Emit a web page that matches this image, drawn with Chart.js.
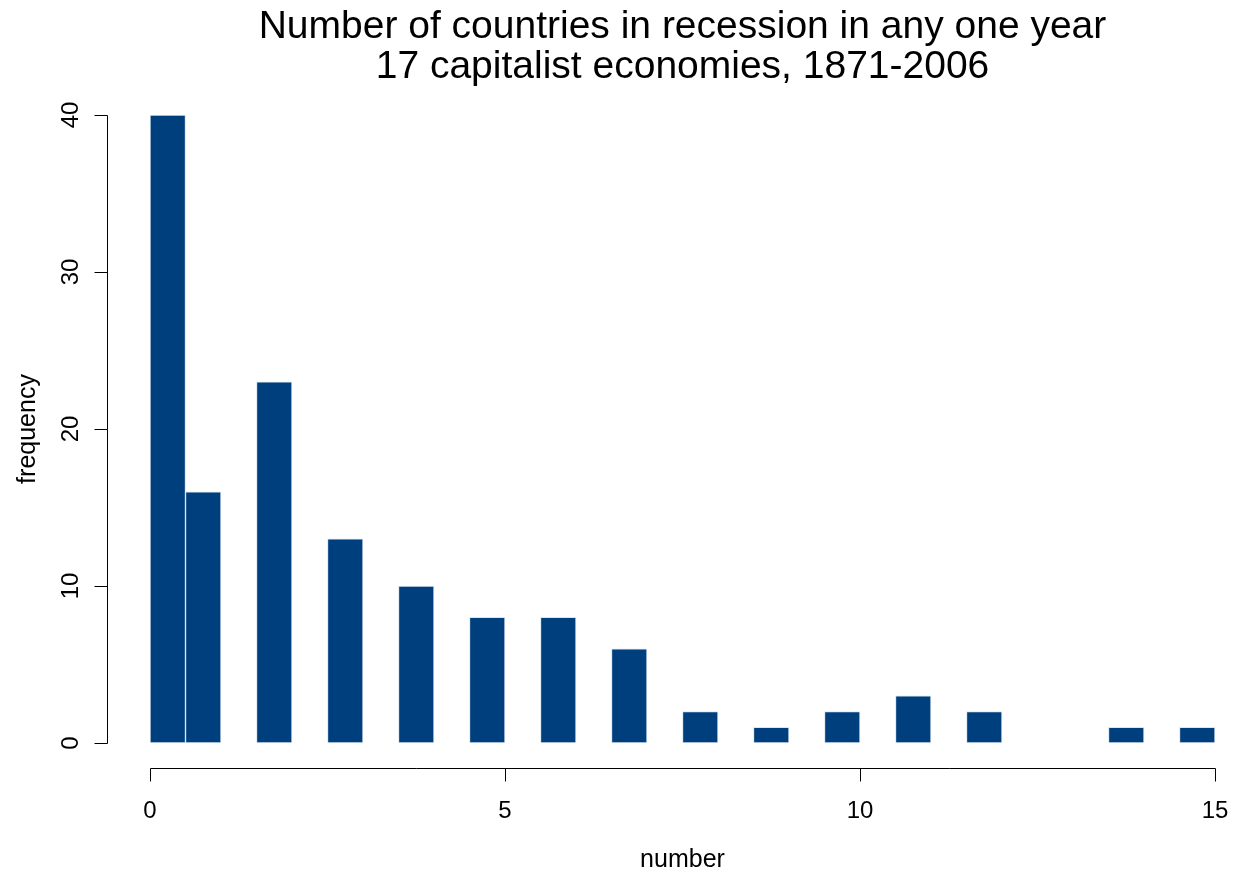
<!DOCTYPE html>
<html>
<head>
<meta charset="utf-8">
<title>Number of countries in recession in any one year</title>
<script src="https://cdn.jsdelivr.net/npm/chart.js@4/dist/chart.umd.min.js"></script>
<style>
  html, body { margin: 0; padding: 0; background: #ffffff; }
  canvas { display: block; }
</style>
</head>
<body>
<canvas id="hist" width="1233" height="875"></canvas>
<script>
// Histogram bins (width 0.5) of the number of economies in recession per year
const binStarts = [0, 0.5, 1, 1.5, 2, 2.5, 3, 3.5, 4, 4.5, 5, 5.5, 6, 6.5, 7,
                   7.5, 8, 8.5, 9, 9.5, 10, 10.5, 11, 11.5, 12, 12.5, 13, 13.5, 14, 14.5];
const binWidth = 0.5;
const frequencies = [40, 16, 0, 23, 0, 13, 0, 10, 0, 8, 0, 8, 0, 6, 0,
                     2, 0, 1, 0, 2, 0, 3, 0, 2, 0, 0, 0, 1, 0, 1];
const xTicks = [0, 5, 10, 15];
const yTicks = [0, 10, 20, 30, 40];
const titleLines = ['Number of countries in recession in any one year',
                    '17 capitalist economies, 1871-2006'];
const xLabel = 'number';
const yLabel = 'frequency';

const FONT = '"Liberation Sans", Arial, Helvetica, sans-serif';

// R-style detached axes: the axis lines sit 4% of the data range outside the data
const baseAxes = {
  id: 'baseAxes',
  afterDraw(chart) {
    const ctx = chart.ctx;
    const xs = chart.scales.x, ys = chart.scales.y;
    const xMin = xTicks[0], xMax = xTicks[xTicks.length - 1];
    const yMin = yTicks[0], yMax = yTicks[yTicks.length - 1];
    const xAxisY = Math.round(ys.getPixelForValue(yMin - 0.04 * (yMax - yMin))) + 0.5;
    const yAxisX = Math.round(xs.getPixelForValue(xMin - 0.04 * (xMax - xMin))) + 0.5;
    const tickLen = 13;
    const crisp = v => Math.round(v) + 0.5;

    ctx.save();
    ctx.strokeStyle = '#000000';
    ctx.lineWidth = 1;
    ctx.fillStyle = '#000000';

    // x axis
    ctx.beginPath();
    ctx.moveTo(crisp(xs.getPixelForValue(xMin)), xAxisY);
    ctx.lineTo(crisp(xs.getPixelForValue(xMax)), xAxisY);
    xTicks.forEach(v => {
      const px = crisp(xs.getPixelForValue(v));
      ctx.moveTo(px, xAxisY);
      ctx.lineTo(px, xAxisY + tickLen);
    });
    ctx.stroke();
    ctx.font = '24px ' + FONT;
    ctx.textAlign = 'center';
    ctx.textBaseline = 'alphabetic';
    xTicks.forEach(v => {
      ctx.fillText(String(v), xs.getPixelForValue(v), xAxisY + 49);
    });

    // y axis
    ctx.beginPath();
    ctx.moveTo(yAxisX, crisp(ys.getPixelForValue(yMin)));
    ctx.lineTo(yAxisX, crisp(ys.getPixelForValue(yMax)));
    yTicks.forEach(v => {
      const py = crisp(ys.getPixelForValue(v));
      ctx.moveTo(yAxisX, py);
      ctx.lineTo(yAxisX - tickLen, py);
    });
    ctx.stroke();
    yTicks.forEach(v => {
      ctx.save();
      ctx.translate(yAxisX - 30, ys.getPixelForValue(v));
      ctx.rotate(-Math.PI / 2);
      ctx.fillText(String(v), 0, 0);
      ctx.restore();
    });

    // axis titles, centred on the plot region
    const plotCx = (xs.getPixelForValue(xMin - 0.04 * (xMax - xMin)) +
                    xs.getPixelForValue(xMax + 0.04 * (xMax - xMin))) / 2;
    const plotCy = (ys.getPixelForValue(yMin - 0.04 * (yMax - yMin)) +
                    ys.getPixelForValue(yMax + 0.04 * (yMax - yMin))) / 2;
    ctx.font = '25px ' + FONT;
    ctx.fillText(xLabel, plotCx, 867);
    ctx.save();
    ctx.translate(35, plotCy);
    ctx.rotate(-Math.PI / 2);
    ctx.fillText(yLabel, 0, 0);
    ctx.restore();

    // main title
    ctx.font = '39px ' + FONT;
    ctx.fillText(titleLines[0], plotCx, 38);
    ctx.fillText(titleLines[1], plotCx, 78);
    ctx.restore();
  }
};

new Chart(document.getElementById('hist'), {
  type: 'bar',
  data: {
    datasets: [{
      label: yLabel,
      data: binStarts.map((s, i) => ({ x: s + binWidth / 2, y: frequencies[i] })),
      backgroundColor: '#003F7D',
      borderColor: '#dbe6f1',
      borderWidth: 1,
      borderSkipped: false,
      barPercentage: 1,
      categoryPercentage: 1
    }]
  },
  options: {
    responsive: false,
    animation: false,
    devicePixelRatio: 1,
    layout: { padding: { left: 150, right: 18, top: 115, bottom: 132 } },
    plugins: {
      legend: { display: false },
      tooltip: { enabled: false },
      title: { display: false }
    },
    scales: {
      x: {
        type: 'linear',
        min: xTicks[0],
        max: xTicks[xTicks.length - 1],
        offset: false,
        display: false
      },
      y: {
        min: yTicks[0],
        max: yTicks[yTicks.length - 1],
        display: false
      }
    }
  },
  plugins: [baseAxes]
});
</script>
</body>
</html>
